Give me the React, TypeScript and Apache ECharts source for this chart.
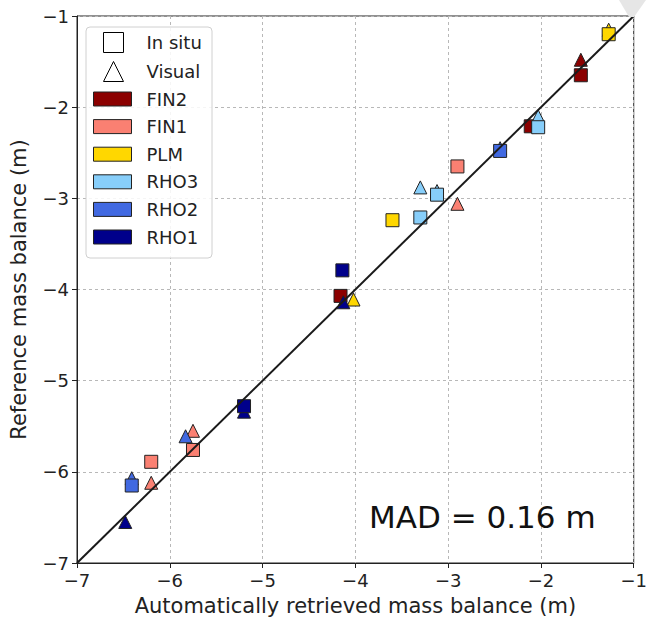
import React, { useEffect, useRef } from "react";
import * as echarts from "echarts";

const methods = ["FIN2", "FIN1", "PLM", "RHO3", "RHO2", "RHO1"];
const colors = ["#8b0000", "#fa8072", "#ffd700", "#87cefa", "#4169e1", "#00008b"];

const inSitu: number[][][] = [
  [[-1.57, -1.65], [-2.11, -2.21], [-4.16, -4.07]],
  [[-2.9, -2.65], [-5.75, -5.76], [-6.2, -5.89]],
  [[-1.27, -1.2], [-3.6, -3.24]],
  [[-2.03, -2.22], [-3.12, -2.96], [-3.3, -3.21]],
  [[-2.44, -2.48], [-6.41, -6.15]],
  [[-4.14, -3.79], [-5.2, -5.28]],
];

const visual: number[][][] = [
  [[-1.57, -1.48]],
  [[-2.9, -3.06], [-5.75, -5.55], [-6.2, -6.12]],
  [[-1.27, -1.15], [-4.02, -4.11]],
  [[-2.03, -2.1], [-3.12, -2.92], [-3.3, -2.88]],
  [[-2.44, -2.45], [-5.83, -5.61], [-6.41, -6.07]],
  [[-4.13, -4.14], [-5.2, -5.34], [-6.48, -6.55]],
];

const oneToOne = [[-7, -7], [-1, -1]];
const axisTicks = { min: -7, max: -1, interval: 1 };
const madLabel = "MAD = 0.16 m";

const FONT = "DejaVu Sans";
const fmt = (v: number) => String(v).replace("-", "\u2212");

export default function App() {
  const ref = useRef<HTMLDivElement>(null);
  useEffect(() => {
    document.body.style.margin = "0";
    const chart = echarts.init(ref.current!, null, { renderer: "svg" });
    const series: any[] = [];
    methods.forEach((m, i) => {
      series.push({
        name: m,
        type: "scatter",
        symbol: "triangle",
        symbolSize: 13,
        data: visual[i],
        z: 2,
        itemStyle: { color: colors[i], borderColor: "#222", borderWidth: 1, opacity: 1 },
      });
      series.push({
        name: m,
        type: "scatter",
        symbol: "rect",
        symbolSize: 13,
        data: inSitu[i],
        z: 2,
        itemStyle: { color: colors[i], borderColor: "#222", borderWidth: 1, opacity: 1 },
      });
    });
    series.push({
      name: "In situ",
      type: "scatter",
      symbol: "rect",
      data: [],
      itemStyle: { color: "#fff", borderColor: "#000", borderWidth: 1, opacity: 1 },
    });
    series.push({
      name: "Visual",
      type: "scatter",
      symbol: "triangle",
      data: [],
      itemStyle: { color: "#fff", borderColor: "#000", borderWidth: 1, opacity: 1 },
    });
    series.push({
      type: "line",
      data: oneToOne,
      symbol: "none",
      z: 5,
      silent: true,
      lineStyle: { color: "#1a1a1a", width: 2 },
    });

    const axisCommon = {
      type: "value",
      ...axisTicks,
      nameLocation: "middle",
      nameTextStyle: { fontFamily: FONT, fontSize: 21, color: "#222" },
      axisLine: { show: true, onZero: false, lineStyle: { color: "#222", width: 1 } },
      axisTick: { show: true, inside: false, length: 5, lineStyle: { color: "#222" } },
      axisLabel: { fontFamily: FONT, fontSize: 18, color: "#222", formatter: fmt },
      splitLine: { show: true, lineStyle: { color: "#b8b8b8", type: [3, 3], width: 1 } },
    };

    chart.setOption({
      animation: false,
      backgroundColor: "#fff",
      grid: {
        left: 76,
        right: 13,
        top: 16,
        bottom: 58,
        show: true,
        borderColor: "#222",
        borderWidth: 1,
        backgroundColor: "transparent",
      },
      xAxis: {
        ...axisCommon,
        name: "Automatically retrieved mass balance (m)",
        nameGap: 32,
        axisLabel: { ...axisCommon.axisLabel, margin: 8 },
      },
      yAxis: {
        ...axisCommon,
        name: "Reference mass balance (m)",
        nameGap: 48,
        axisLabel: { ...axisCommon.axisLabel, margin: 8 },
      },
      legend: [
        {
          data: [
            { name: "In situ", icon: "rect" },
            { name: "Visual", icon: "triangle" },
          ],
          orient: "vertical",
          left: 103,
          top: 32,
          itemWidth: 20,
          itemHeight: 20,
          itemGap: 8,
          padding: 0,
          z: 10,
          selectedMode: false,
          itemStyle: { borderColor: "#000", borderWidth: 1, opacity: 1 },
          textStyle: { fontFamily: FONT, fontSize: 18, color: "#222", padding: [0, 0, 0, 18] },
        },
        {
          data: methods.map((m) => ({ name: m, icon: "rect" })),
          orient: "vertical",
          left: 93,
          top: 90,
          itemWidth: 38,
          itemHeight: 14,
          itemGap: 9.6,
          padding: 0,
          z: 10,
          selectedMode: false,
          itemStyle: { borderColor: "#222", borderWidth: 1, opacity: 1 },
          textStyle: { fontFamily: FONT, fontSize: 18, color: "#222", padding: [0, 0, 0, 10] },
        },
      ],
      graphic: [
        {
          type: "rect",
          z: 8,
          shape: { x: 86, y: 27, width: 126, height: 231, r: 4 },
          style: { fill: "rgba(255,255,255,0.85)", stroke: "#d0d0d0", lineWidth: 1 },
        },
        {
          type: "text",
          z: 10,
          x: 369,
          y: 517,
          style: {
            text: madLabel,
            fontFamily: FONT,
            fontSize: 31,
            fill: "#111",
            verticalAlign: "middle",
          },
        },
        {
          type: "polygon",
          z: 10,
          shape: { points: [[619, 0], [646, 0], [634, 17], [629, 17]] },
          style: { fill: "#e6e6e6" },
        },
      ],
      series,
    });
    return () => chart.dispose();
  }, []);
  return <div ref={ref} style={{ width: 650, height: 621 }} />;
}
